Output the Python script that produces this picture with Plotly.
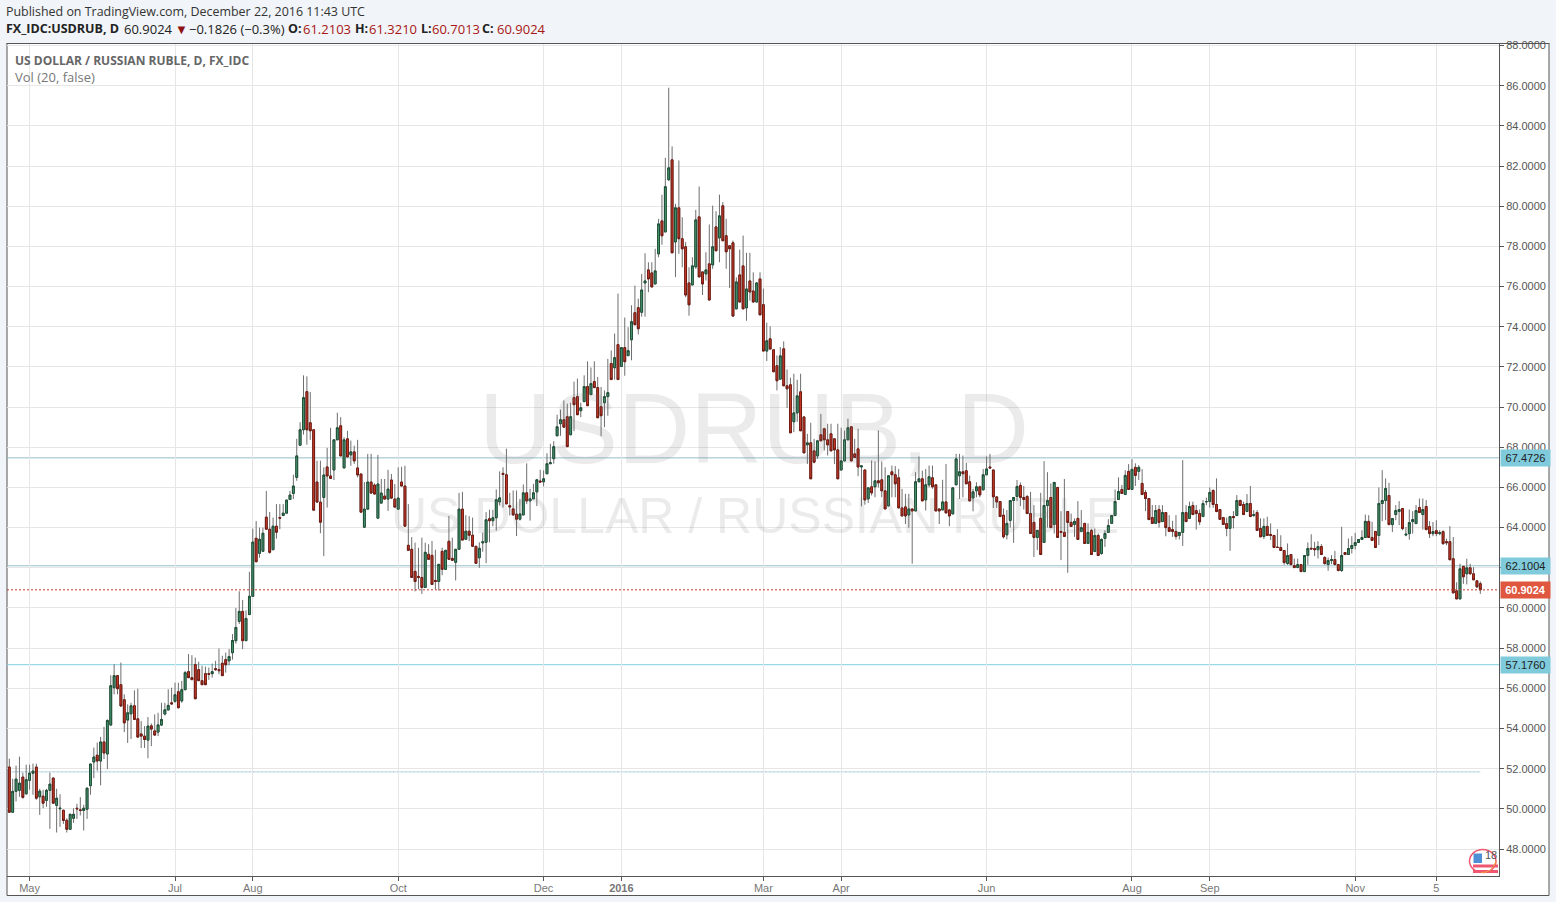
import plotly.graph_objects as go

# --- values, by stretch of the series ---
o1 = [52.08,49.83,50.87,50.92,51.58,50.75,51.42,51.77,52.08,50.6,
      50.63,50.42,50.92,51.53,50.17,50.0,49.93,49.43,48.98,49.53,
      50.03,49.95,49.92,49.98,51.15,52.33,52.67,52.38,53.33,52.73,
      54.17,56.03,56.63,56.18,55.43,54.42,54.73,55.13,54.48,53.73,
      53.62,53.42,54.13,53.88,53.82,54.17,54.72,54.92,55.28,55.35]
h1 = [52.5,51.5,52.15,52.6,51.8,52.2,52.2,52.25,52.25,51.0,
      50.95,51.0,51.8,51.57,51.0,50.73,49.95,49.53,49.75,50.03,
      50.25,50.58,50.2,51.03,52.25,53.05,53.3,53.58,54.08,54.45,
      56.65,57.2,56.63,57.28,55.7,55.2,55.28,55.9,55.98,54.37,
      54.12,54.57,54.25,54.7,54.78,55.28,55.28,55.95,56.03,56.28]
l1 = [49.8,49.83,50.37,50.6,50.5,50.7,50.95,50.7,50.45,49.7,
      50.03,50.1,49.0,50.28,48.82,49.1,49.25,48.82,48.98,49.3,
      49.5,49.67,48.92,49.5,50.7,51.53,51.9,51.17,52.48,51.98,
      54.17,55.7,55.7,55.07,53.82,53.28,53.48,54.45,53.57,53.03,
      53.03,52.52,53.12,53.67,53.62,54.12,54.65,54.92,55.2,55.28]
c1 = [49.83,50.87,51.48,51.28,50.57,51.45,51.78,51.88,50.53,50.88,
      50.28,50.92,51.23,50.28,50.53,50.03,49.42,48.98,49.73,49.73,
      50.0,49.92,50.03,51.03,52.23,52.58,52.38,53.33,52.78,54.4,
      56.13,56.63,55.98,55.12,54.28,54.78,55.13,54.45,53.57,53.62,
      53.45,54.12,53.97,53.67,54.18,54.45,54.93,55.15,55.22,55.68]

o2 = [55.83,55.37,55.93,56.83,56.53,57.18,56.93,56.38,56.73,56.73,
      56.73,56.98,56.93,57.25,57.43,57.37,57.77,58.37,59.33,59.83,
      58.37,59.67,60.58,63.47,62.72,62.82,64.52,63.92,62.9,64.07,
      64.5,64.6,64.72,65.4,65.7,66.5,68.1,68.87,70.77,69.22,
      68.87,66.27,65.27,65.5,67.02,66.57,66.87,68.37,69.07,66.97]
h2 = [56.28,56.37,56.87,57.7,57.65,57.53,57.32,57.12,57.08,57.03,
      57.23,57.37,57.98,57.62,57.78,57.95,58.7,60.0,60.83,60.4,
      59.88,61.8,63.95,64.33,64.0,64.0,65.83,64.78,64.5,65.17,
      65.17,65.17,65.37,65.83,66.63,68.42,69.25,71.58,71.53,70.75,
      68.87,67.33,67.33,67.0,67.97,68.97,68.37,69.72,69.5,68.5]
l2 = [55.03,55.28,55.93,56.53,56.43,55.48,56.38,56.18,56.18,56.42,
      56.53,56.87,56.7,56.63,56.78,57.15,57.43,58.22,59.2,57.95,
      58.37,59.67,60.58,62.3,62.5,62.82,63.92,62.7,62.9,63.45,
      63.92,64.6,64.72,65.4,65.42,66.33,68.1,68.63,68.13,68.37,
      64.87,65.27,63.72,62.58,65.0,66.45,66.37,68.37,67.57,66.97]
c2 = [55.03,55.93,56.78,56.53,56.43,55.48,56.38,56.18,56.18,56.7,
      56.83,56.93,56.88,56.63,57.17,57.58,58.38,59.03,59.83,58.37,
      59.48,60.58,63.28,62.3,63.42,63.72,63.92,62.77,64.07,63.77,
      64.47,64.72,65.37,65.62,66.07,67.57,68.87,70.47,68.87,68.82,
      64.87,65.27,64.27,66.62,66.57,66.45,68.37,68.97,67.57,68.37]

o3 = [68.42,67.62,67.77,66.97,66.67,64.02,64.92,66.27,66.12,64.47,
      65.22,65.57,65.42,66.37,65.42,64.92,66.27,66.07,63.12,62.92,
      61.82,61.57,61.52,61.02,62.67,62.62,61.37,61.32,62.82,61.92,
      63.32,62.47,62.27,62.92,64.92,63.42,63.82,63.62,63.07,62.5,
      63.24,63.27,64.44,64.34,64.49,65.28,66.7,66.63,65.09,64.93]
h3 = [68.82,68.33,68.08,68.37,66.67,66.27,67.67,67.67,66.2,67.62,
      66.42,66.42,66.88,66.67,66.17,67.0,67.03,67.08,65.17,63.53,
      63.25,63.0,63.5,63.25,63.17,63.33,62.9,62.17,63.0,62.87,
      64.58,63.5,62.92,65.73,65.78,64.62,64.57,64.5,63.07,63.27,
      63.75,64.77,64.89,64.89,65.9,66.8,67.0,67.93,65.73,65.85]
l3 = [67.52,67.08,67.17,66.5,64.77,64.02,64.92,65.67,65.67,64.47,
      65.22,65.42,64.83,65.42,65.02,64.92,66.07,64.07,62.87,61.52,
      60.83,60.93,60.7,61.02,62.42,61.17,60.93,60.87,61.63,61.92,
      62.42,62.37,61.37,62.92,63.38,63.42,63.33,63.07,62.22,62.0,
      62.8,62.23,63.27,64.07,63.85,65.1,65.0,65.18,64.6,64.6]
c3 = [67.52,67.77,67.32,66.62,64.77,64.92,66.27,65.72,65.67,66.17,
      65.72,65.42,65.92,65.47,65.02,65.47,66.07,64.07,62.87,61.52,
      61.32,61.52,61.02,62.77,62.42,61.17,61.32,62.17,61.92,62.87,
      62.42,62.37,62.92,64.92,63.38,63.82,63.62,63.07,62.22,62.97,
      63.29,64.39,64.34,64.49,65.39,65.48,66.65,65.18,65.03,64.63]

o4 = [64.67,64.42,64.63,65.73,65.33,65.43,65.78,66.32,66.28,66.68,
      67.18,67.43,68.57,69.17,69.37,69.52,68.62,70.47,70.52,69.82,
      70.27,71.02,70.62,71.27,70.97,70.02,70.22,70.52,72.17,71.96,
      73.11,72.02,72.96,72.56,73.35,74.7,74.95,74.72,76.18,76.83,
      76.68,76.13,77.63,79.27,78.72,81.32,82.31,78.22,79.92,78.38]
h4 = [65.85,65.43,66.15,67.2,65.93,66.18,66.43,66.88,66.85,67.7,
      68.17,68.3,69.62,69.87,70.33,70.17,70.22,71.27,71.42,70.22,
      71.58,72.28,71.97,72.28,71.5,71.0,70.83,72.4,72.82,73.66,
      75.65,72.96,74.46,73.98,75.07,76.05,75.4,76.63,77.66,77.21,
      77.21,77.88,79.37,80.57,82.41,85.9,82.98,80.12,82.28,79.45]
l4 = [63.58,64.35,64.63,65.17,64.35,65.43,65.07,66.27,66.05,66.68,
      67.18,67.18,68.57,68.57,69.0,68.03,68.62,68.8,69.62,69.5,
      70.27,70.07,70.62,70.97,69.47,68.55,69.0,69.57,71.37,71.37,
      71.37,72.02,71.56,72.56,72.33,74.1,73.62,74.5,74.5,75.72,
      75.98,76.13,77.46,78.08,78.72,81.25,77.68,76.47,77.63,76.96]
c4 = [64.42,64.68,65.73,65.33,65.43,65.73,66.38,66.27,66.43,67.18,
      67.23,68.03,69.02,69.37,69.0,68.03,69.52,70.12,69.62,69.97,
      71.02,70.07,71.17,70.97,69.47,69.57,70.52,70.72,71.37,72.46,
      71.37,72.96,72.26,72.81,74.25,74.1,73.9,75.83,76.28,76.38,
      75.98,76.78,79.12,78.53,80.97,81.91,77.68,79.92,78.38,77.88]

o5 = [77.98,76.18,76.08,76.98,79.47,76.73,76.63,77.13,77.08,78.97,
      78.42,80.02,78.53,78.03,78.18,74.89,76.58,77.03,74.94,76.28,
      75.78,75.23,76.38,75.1,72.79,73.4,72.85,72.06,71.39,72.9,
      71.06,71.11,69.27,69.71,70.76,69.51,68.12,68.22,67.82,67.57,
      68.62,68.92,68.37,68.67,68.42,67.87,66.87,67.32,68.37,69.02]
h5 = [78.21,76.96,77.46,79.82,80.98,76.75,77.71,79.09,80.03,79.75,
      80.58,80.2,79.37,78.03,78.29,76.46,77.84,78.54,77.68,77.68,
      76.71,76.22,76.71,75.9,74.2,74.02,72.85,72.57,72.99,73.27,
      71.87,71.46,71.66,71.36,71.66,69.51,68.67,69.22,68.42,68.32,
      69.66,68.97,69.17,69.17,68.42,69.17,68.97,68.83,69.42,69.02]
l5 = [75.47,74.55,76.08,76.88,76.48,75.58,76.3,75.33,76.88,77.78,
      77.21,78.28,76.88,75.93,74.53,74.89,75.23,74.89,74.3,75.3,
      75.23,75.23,74.59,72.79,72.29,72.89,71.76,70.83,71.39,71.06,
      69.96,68.72,68.75,69.27,68.82,67.72,67.17,66.43,67.2,67.42,
      68.32,67.84,67.59,67.82,67.17,66.43,66.84,67.32,68.37,67.32]
c5 = [75.58,75.09,77.03,79.32,76.48,76.13,76.83,75.33,77.98,77.78,
      79.52,78.28,77.73,77.88,74.53,76.23,75.23,74.89,75.88,75.73,
      75.23,76.18,74.59,72.79,73.3,72.89,71.76,71.31,72.55,71.06,
      70.91,68.72,69.71,70.56,68.82,67.72,68.22,66.43,67.26,68.32,
      68.32,68.37,68.12,67.82,67.87,66.43,67.32,68.37,68.97,67.32]

o6 = [67.67,67.92,67.02,66.87,65.43,66.03,66.03,66.33,66.38,65.83,
      65.08,66.78,66.63,66.48,64.98,65.03,64.63,64.93,64.83,66.28,
      66.43,65.38,66.13,66.48,66.13,64.93,64.88,65.28,64.88,64.68,
      66.13,66.58,66.78,66.83,66.28,65.48,65.83,66.03,65.88,66.63,
      67.02,66.87,65.53,65.3,64.62,63.64,64.36,65.35,65.55,66.1]
h6 = [68.42,68.92,67.07,66.87,65.98,67.34,67.29,68.83,67.29,67.0,
      66.58,67.09,67.06,66.92,65.93,65.68,65.68,64.93,66.76,67.54,
      66.84,66.92,67.09,67.09,66.13,64.93,66.38,67.17,64.93,65.98,
      67.67,67.67,67.59,67.22,66.59,65.93,66.26,66.09,66.92,67.54,
      67.67,66.87,65.53,65.3,64.95,64.87,65.35,65.5,66.37,66.25]
l6 = [67.49,66.56,65.06,65.14,65.23,65.6,65.51,66.0,65.51,64.93,
      65.08,65.51,65.51,64.98,64.58,64.18,64.0,62.2,64.83,66.28,
      65.33,64.85,66.0,65.93,64.83,64.18,64.88,64.73,64.07,64.68,
      66.13,65.43,65.51,66.18,65.33,64.81,65.51,65.51,65.88,66.63,
      66.97,64.98,64.98,64.55,63.46,63.41,64.0,63.24,65.32,65.07]
c6 = [67.49,67.02,67.07,65.38,65.98,65.73,66.33,66.23,65.83,64.93,
      66.58,66.63,66.18,64.98,64.58,64.58,64.93,64.83,66.28,66.43,
      65.33,66.13,66.53,66.03,64.83,64.83,65.28,64.73,64.58,65.98,
      67.42,66.78,66.68,66.18,65.33,65.78,66.03,65.63,66.63,66.92,
      66.97,65.53,65.28,64.55,63.54,64.21,65.35,65.5,66.05,65.5]

o7 = [65.5,65.55,64.7,64.26,63.51,64.46,63.26,65.1,65.5,64.16,
      66.0,63.81,63.76,64.8,64.26,64.16,64.46,63.81,64.21,63.21,
      63.86,62.81,63.61,62.71,63.46,63.76,64.21,64.6,65.4,65.9,
      65.65,66.8,65.9,67.0,66.8,66.2,65.75,65.45,64.5,64.21,
      64.9,64.3,64.75,64.0,63.9,63.81,63.61,63.76,64.75,64.46]
h7 = [66.07,65.62,65.78,65.12,63.86,65.73,67.31,66.76,66.2,66.25,
      66.0,64.82,66.42,64.8,64.7,64.46,65.32,64.87,64.21,64.21,
      63.94,63.96,63.71,63.46,63.87,64.42,64.6,65.9,66.5,66.12,
      66.86,67.16,67.41,67.2,67.11,66.91,65.87,65.45,65.12,65.12,
      65.12,65.12,64.75,64.62,64.34,64.62,63.76,67.36,65.12,65.29]
l7 = [64.9,64.7,63.71,62.54,62.88,62.66,63.26,64.0,64.0,63.71,
      63.51,62.38,63.56,61.75,64.06,63.54,63.41,63.81,63.21,63.21,
      62.66,62.81,62.61,62.65,63.04,63.76,64.21,64.6,65.4,65.7,
      65.65,65.9,65.9,66.07,66.37,65.65,64.82,64.4,64.21,64.21,
      64.0,64.3,63.57,63.81,63.54,63.41,63.41,63.09,64.3,64.46]
c7 = [65.4,64.7,63.71,63.51,63.86,62.66,65.1,65.35,64.0,66.25,
      63.51,63.76,63.56,64.26,64.06,64.31,63.41,64.0,63.21,63.76,
      62.66,63.61,62.61,63.41,63.71,64.1,64.6,65.3,65.8,65.7,
      66.6,65.9,66.9,66.6,67.0,65.65,65.45,64.4,64.21,64.85,
      64.26,64.75,64.0,63.81,63.81,63.56,63.76,64.75,64.3,65.05]

o8 = [65.1,64.85,64.7,64.55,65.28,65.3,65.85,65.15,64.9,64.5,
      64.2,63.96,64.55,64.6,65.35,65.15,64.8,65.2,64.6,64.75,
      63.96,63.56,64.06,63.66,63.61,63.03,63.01,62.86,62.21,62.66,
      62.11,62.01,62.16,61.81,62.61,62.97,62.96,62.9,63.06,62.51,
      62.16,62.36,62.41,62.16,61.86,62.76,62.66,62.96,63.11,63.26]
h8 = [65.29,65.12,64.9,65.37,65.49,66.0,65.9,66.45,64.9,64.5,
      64.5,64.55,64.82,65.62,65.4,65.29,65.67,66.07,64.87,64.87,
      64.46,64.46,64.54,64.21,63.61,63.92,63.62,62.86,63.21,62.66,
      62.46,62.46,62.16,62.61,63.26,63.67,63.29,63.32,63.18,62.58,
      62.51,62.63,62.84,62.16,64.04,62.76,63.46,63.57,63.74,63.41]
l8 = [64.65,63.9,64.12,64.55,65.12,64.99,64.99,64.77,64.41,64.16,
      63.57,62.84,63.96,64.6,65.1,64.65,64.8,64.55,64.54,63.86,
      63.54,63.43,63.61,63.38,63.01,63.0,62.86,62.15,62.15,62.11,
      62.01,62.01,61.81,61.81,62.15,62.9,62.58,62.46,62.66,62.15,
      61.85,62.18,62.16,61.86,61.8,62.66,62.66,62.71,62.91,63.26]
c8 = [64.65,64.7,64.29,65.2,65.3,65.75,65.15,64.8,64.41,64.16,
      63.96,64.55,64.5,65.35,65.1,64.65,65.2,64.55,64.65,63.86,
      63.54,64.06,63.61,63.61,63.01,63.01,62.86,62.26,62.61,62.16,
      62.01,62.16,61.81,62.61,62.96,62.94,62.9,63.06,62.66,62.21,
      62.36,62.41,62.16,61.86,62.61,62.66,62.96,63.11,63.26,63.41]

o9 = [63.41,63.51,64.31,63.51,63.81,63.61,65.2,65.35,65.6,64.15,
      64.65,64.8,64.95,63.63,63.7,64.3,64.2,65.0,64.65,65.05,
      64.05,63.7,63.85,63.7,63.8,63.3,63.3,62.45,60.85,60.45,
      62.07,61.7,62.0,61.7,61.35,61.21]
h9 = [63.87,64.65,64.62,64.29,63.81,66.0,66.86,66.45,66.23,64.45,
      65.12,65.32,64.95,64.03,64.9,64.82,65.12,65.45,65.45,65.37,
      64.32,64.28,64.37,63.87,63.87,63.45,64.07,63.53,61.28,62.2,
      62.07,62.45,62.2,62.03,61.4,61.32]
l9 = [63.41,63.51,63.51,63.36,63.01,63.13,64.32,64.37,64.15,63.78,
      64.37,64.12,63.87,63.57,63.4,63.7,64.2,64.75,63.9,63.9,
      63.48,63.57,63.57,63.62,63.15,63.12,62.4,60.75,60.45,60.45,
      61.2,61.17,61.67,61.4,61.0,60.70]
c9 = [63.51,64.31,63.51,63.36,63.01,65.2,65.35,65.95,64.15,64.45,
      64.85,64.9,63.95,63.67,64.25,64.4,64.85,64.75,64.9,63.9,
      63.7,63.8,63.7,63.75,63.2,63.25,62.4,60.75,60.45,61.95,
      61.55,62.0,61.7,61.4,61.05,60.9024]

tick_bars = [6, 49, 72, 115, 158, 181, 223, 246, 289, 332, 355, 398, 422]
tick_names = ["May", "Jul", "Aug", "Oct", "Dec", "<b>2016</b>", "Mar", "Apr", "Jun", "Aug", "Sep", "Nov", "5"]
price_ticks = [48, 50, 52, 54, 56, 58, 60, 62, 64, 66, 68, 70, 72, 74, 76, 78, 80, 82, 84, 86, 88]
level_lines = [67.4726, 62.1004, 57.1760]
level_colors = ["#93bfc9", "#93bfc9", "#7fd2df"]
last_close = 60.9024
low_line = 51.84

opens = o1 + o2 + o3 + o4 + o5 + o6 + o7 + o8 + o9
highs = h1 + h2 + h3 + h4 + h5 + h6 + h7 + h8 + h9
lows = l1 + l2 + l3 + l4 + l5 + l6 + l7 + l8 + l9
closes = c1 + c2 + c3 + c4 + c5 + c6 + c7 + c8 + c9
bars = list(range(len(opens)))

W, H = 1556, 902
L, R, T, B = 7, 1499, 44, 876
def px(x):
    return (x - L) / (R - L)
def py(y):
    return (B - y) / (B - T)

BG = "#f1f4f8"
FRAME = "#555555"
TEAL = "#7fcbdb"
RED_FILL, RED_EDGE = "#d03c28", "#701a12"
GREEN_FILL, GREEN_EDGE = "#4c9a74", "#1c4f36"
GRID = "#e6e6e6"
WICK = "#6e6e6e"

fig = go.Figure()
# wicks
fig.add_trace(go.Candlestick(
    x=bars, open=opens, high=highs, low=lows, close=closes, whiskerwidth=0,
    increasing=dict(line=dict(color=WICK, width=1), fillcolor=WICK),
    decreasing=dict(line=dict(color=WICK, width=1), fillcolor=WICK),
    hoverinfo="skip", showlegend=False))
# bodies
fig.add_trace(go.Candlestick(
    x=bars, open=opens, close=closes, whiskerwidth=0,
    high=[max(a, b) for a, b in zip(opens, closes)],
    low=[min(a, b) for a, b in zip(opens, closes)],
    increasing=dict(line=dict(color=GREEN_EDGE, width=1), fillcolor=GREEN_FILL),
    decreasing=dict(line=dict(color=RED_EDGE, width=1), fillcolor=RED_FILL),
    hoverinfo="skip", showlegend=False))

shapes = [
    dict(type="rect", xref="paper", yref="paper", x0=px(7), x1=px(1549), y0=py(895.5), y1=py(43.5),
         fillcolor="white", line=dict(color=FRAME, width=1), layer="below"),
    dict(type="rect", xref="paper", yref="paper", x0=0, x1=1, y0=py(43), y1=1.06,
         fillcolor=BG, line=dict(width=0), layer="above"),
    dict(type="line", xref="paper", yref="paper", x0=px(6.5), x1=px(1549.5), y0=py(43.5), y1=py(43.5),
         line=dict(color=FRAME, width=1), layer="above"),
]
for v, col in zip(level_lines, level_colors):
    shapes.append(dict(type="line", xref="paper", yref="y", x0=0, x1=1, y0=v, y1=v,
                       line=dict(color=col, width=1), layer="below"))
shapes.append(dict(type="line", xref="paper", yref="y", x0=0, x1=1, y0=last_close, y1=last_close,
                   line=dict(color="#c0392b", width=1, dash="2px,2px"), layer="above"))
shapes.append(dict(type="line", xref="x", yref="y", x0=bars[0], x1=bars[-1], y0=low_line, y1=low_line,
                   line=dict(color="#b5e2ea", width=1), layer="below"))
shapes.append(dict(type="line", xref="x", yref="y", x0=bars[0], x1=bars[-1], y0=low_line, y1=low_line,
                   line=dict(color="#c9a9cf", width=1, dash="1px,3px"), layer="below"))

# small flag badge, bottom right
shapes += [
    dict(type="rect", xref="paper", yref="paper", x0=px(1473), x1=px(1498), y0=py(873), y1=py(870),
         fillcolor="#f0566f", line=dict(width=0), layer="above"),
    dict(type="rect", xref="paper", yref="paper", x0=px(1473), x1=px(1498), y0=py(867.5), y1=py(864.5),
         fillcolor="#f0566f", line=dict(width=0), layer="above"),
    dict(type="rect", xref="paper", yref="paper", x0=px(1473.5), x1=px(1482), y0=py(863), y1=py(853.5),
         fillcolor="#4f8fd6", line=dict(width=0), layer="above"),
    dict(type="circle", xref="paper", yref="paper", x0=px(1469.5), x1=px(1496), y0=py(872.5), y1=py(849.5),
         line=dict(color="#f0566f", width=1.5), layer="above"),
    dict(type="path", xref="paper", yref="paper", layer="above", line=dict(color="#f2a23a", width=1),
         path=f"M {px(1481)} {py(872.5)} Q {px(1493)} {py(873)} {px(1496)} {py(861)}"),
]

anns = []
def text(x, y, s, size=12, color="#333333", family="Open Sans", anchor="left"):
    anns.append(dict(xref="paper", yref="paper", x=px(x), y=py(y), text=s, showarrow=False,
                     xanchor=anchor, yanchor="middle", align="left", borderpad=0,
                     font=dict(size=size, color=color, family=family)))

text(754, 428, "USDRUB, D", size=100, color="rgba(110,110,115,0.14)", family="Liberation Sans", anchor="center")
text(755, 516, "US DOLLAR / RUSSIAN RUBLE", size=50, color="rgba(110,110,115,0.14)", family="Liberation Sans", anchor="center")
text(4.5, 11, "Published on TradingView.com, December 22, 2016 11:43 UTC", size=12.45, color="#333333")
VAL = "#a81616"
DARK = "#222222"
text(4.5, 29, "<b>FX_IDC:USDRUB, D</b>", size=12.5, color=DARK)
text(122.5, 29, "60.9024", size=13, color=DARK)
text(173.5, 29, "▼", size=13, color="#8e1010")
text(187.5, 29, "−0.1826 (−0.3%)", size=13, color=DARK)
for x_lab, lab, x_val, val in [(287, "O:", 301.5, "61.2103"), (354, "H:", 367.5, "61.3210"),
                               (420, "L:", 430.5, "60.7013"), (481, "C:", 495.5, "60.9024")]:
    text(x_lab, 29, f"<b>{lab}</b>", size=12.5, color=DARK)
    text(x_val, 29, val, size=13, color=VAL)
text(14, 60, "<b>US DOLLAR / RUSSIAN RUBLE, D, FX_IDC</b>", size=12, color="#666666")
text(14, 77, "Vol (20, false)", size=13, color="#777777")
text(1484, 855, "18", size=11, color="#555555", family="Liberation Sans")

for v in level_lines:
    anns.append(dict(xref="paper", yref="y", x=1, y=v, text=f"{v:.4f}", showarrow=False, xanchor="left",
                     yanchor="middle", xshift=1, width=47, height=14, align="center", bgcolor=TEAL, borderpad=1,
                     font=dict(size=11, color="#222222", family="Liberation Sans")))
anns.append(dict(xref="paper", yref="y", x=1, y=last_close, text=f"<b>{last_close:.4f}</b>", showarrow=False,
                 xanchor="left", yanchor="middle", xshift=1, width=47, height=14, align="center",
                 bgcolor="#e0573f", borderpad=1, font=dict(size=11, color="white", family="Liberation Sans")))

n = len(bars)
step = (1480.3 - 9.3) / (n - 1)
fig.update_layout(
    width=W, height=H, autosize=False,
    margin=dict(l=L, r=W - R, t=T, b=H - B, pad=0),
    paper_bgcolor=BG, plot_bgcolor="rgba(0,0,0,0)",
    showlegend=False, boxgap=0.22, shapes=shapes, annotations=anns,
    xaxis=dict(
        type="linear", range=[(L - 9.3) / step, (R - 9.3) / step],
        tickmode="array", tickvals=tick_bars, ticktext=tick_names,
        showgrid=True, gridcolor=GRID, gridwidth=1, zeroline=False,
        showline=True, linecolor=FRAME, linewidth=1,
        ticks="outside", ticklen=4, tickcolor=FRAME, tickwidth=1, ticklabelstandoff=-2,
        tickfont=dict(family="Liberation Sans", size=11, color="#777777"),
        rangeslider=dict(visible=False), fixedrange=True),
    yaxis=dict(
        side="right", range=[46.656, 88.076],
        tickmode="array", tickvals=price_ticks, ticktext=[f"{v:.4f}" for v in price_ticks],
        showgrid=True, gridcolor=GRID, gridwidth=1, zeroline=False,
        showline=True, linecolor=FRAME, linewidth=1,
        ticks="outside", ticklen=4, tickcolor=FRAME, tickwidth=1,
        tickfont=dict(family="Liberation Sans", size=11, color="#555555"),
        fixedrange=True),
)
fig.write_html("out.html", config=dict(displayModeBar=False),
               post_script="document.body.style.margin='0';document.body.style.background='#f1f4f8';")
